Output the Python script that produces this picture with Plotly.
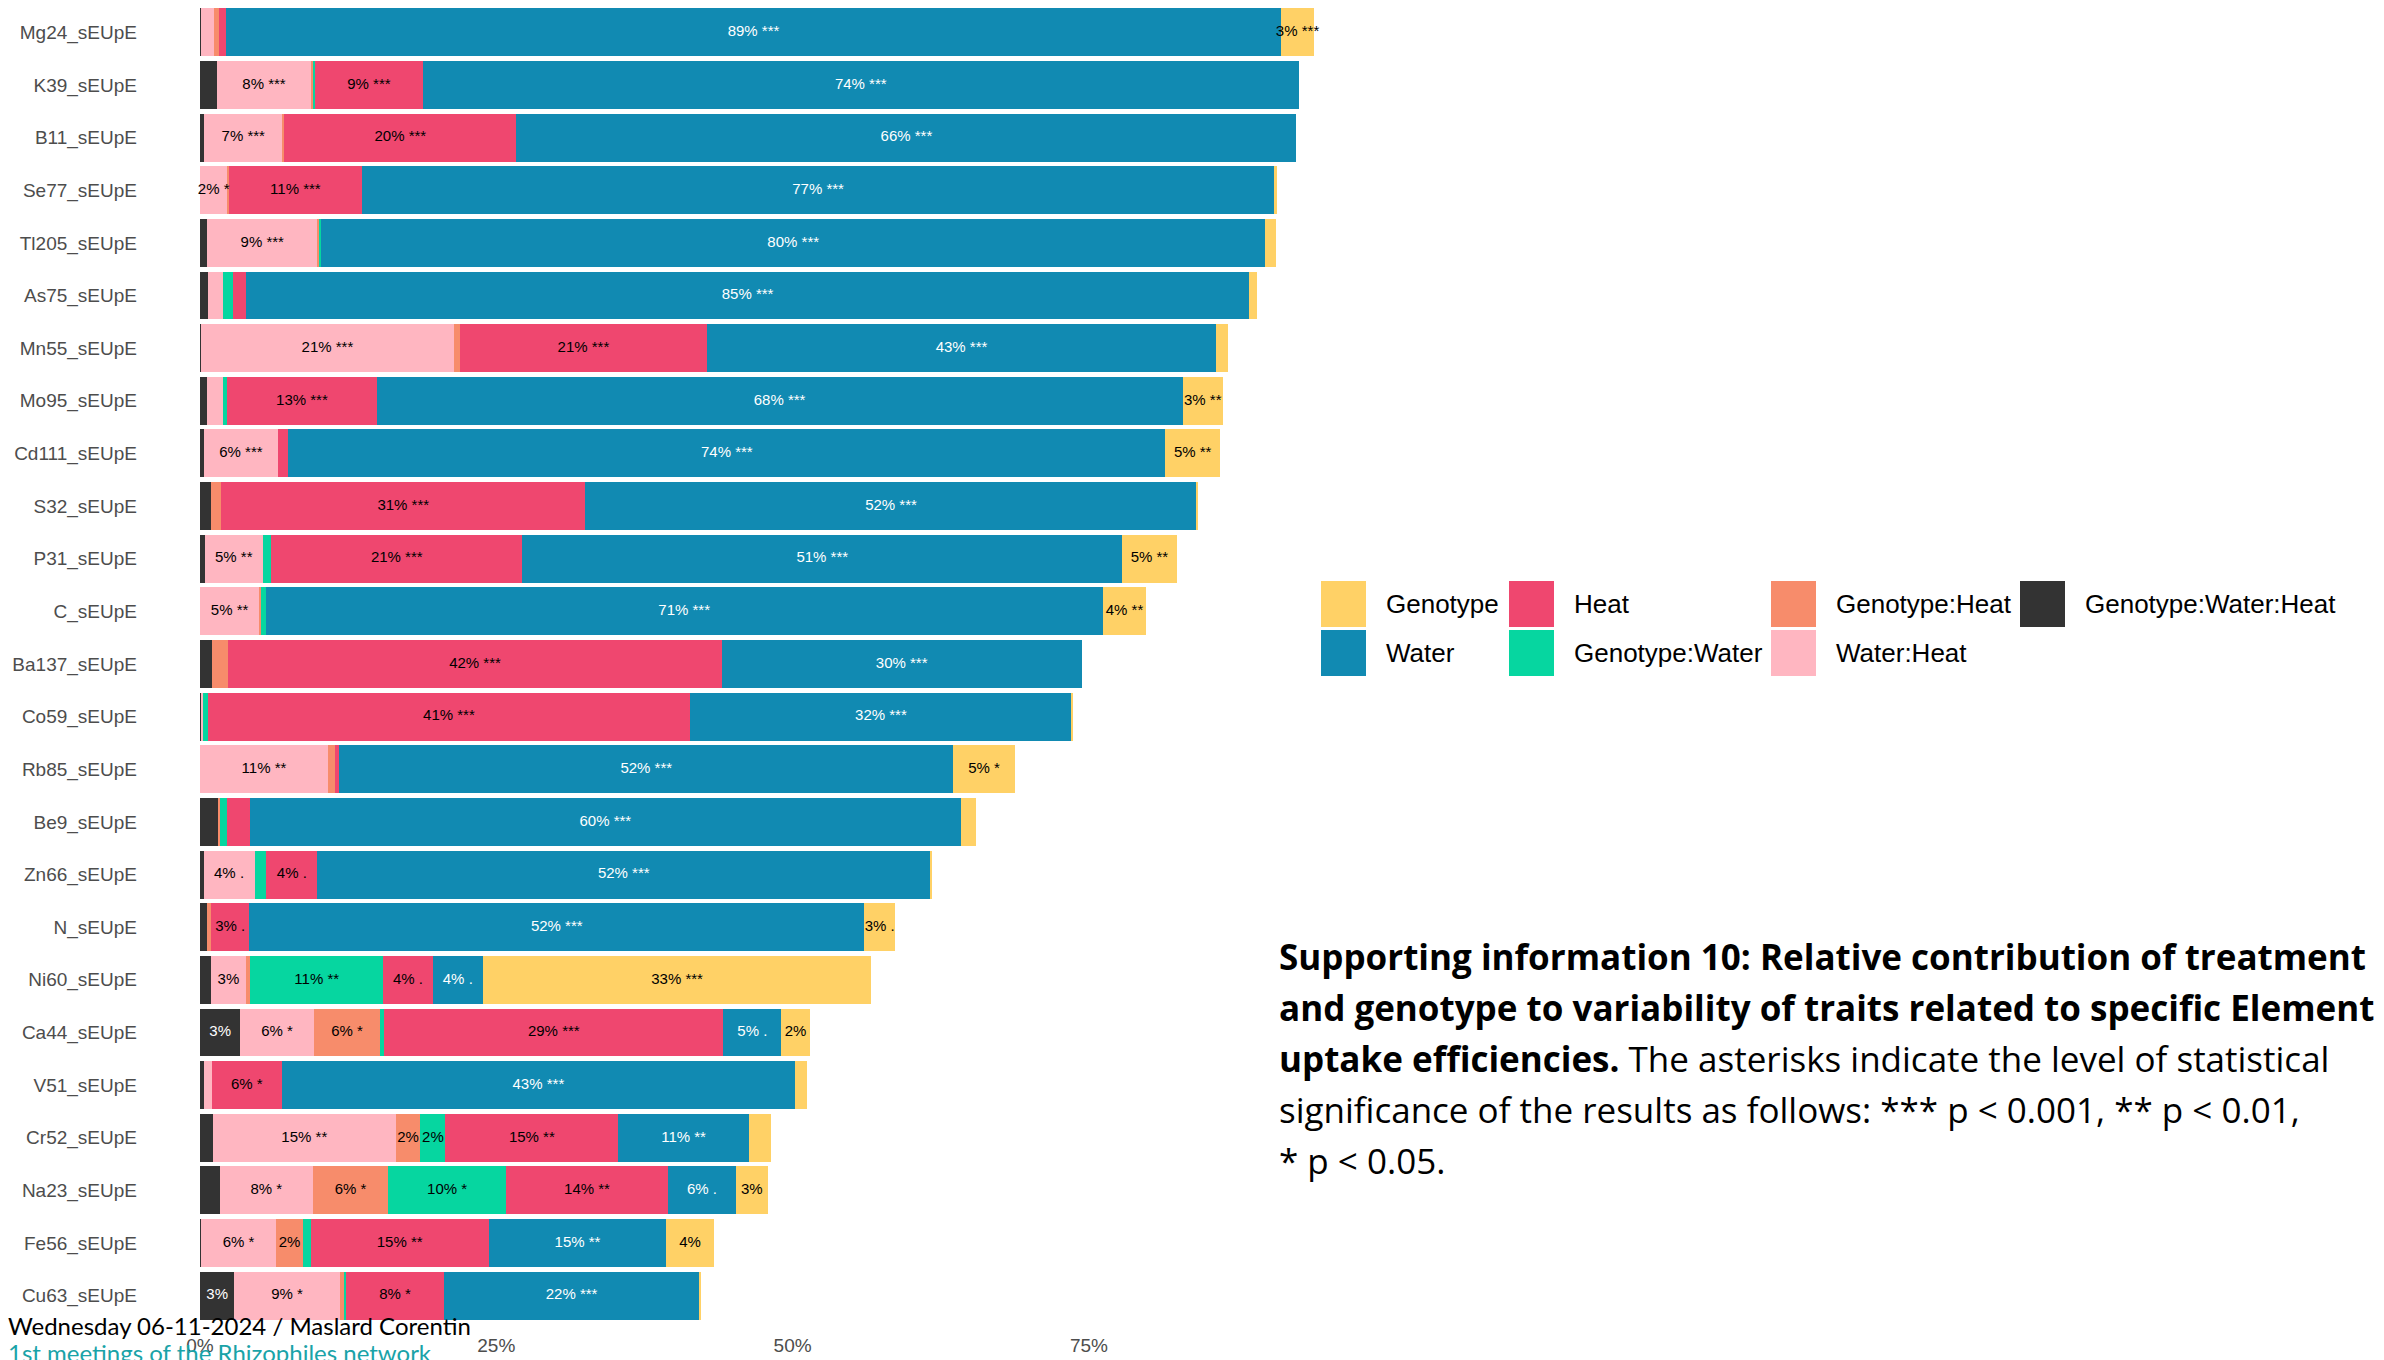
import numpy as np
import plotly.graph_objects as go

# ---- data: relative contribution (%) of each variance component per trait ----
categories = [
    "Mg24_sEUpE", "K39_sEUpE", "B11_sEUpE", "Se77_sEUpE", "Tl205_sEUpE",
    "As75_sEUpE", "Mn55_sEUpE", "Mo95_sEUpE", "Cd111_sEUpE", "S32_sEUpE",
    "P31_sEUpE", "C_sEUpE", "Ba137_sEUpE", "Co59_sEUpE", "Rb85_sEUpE",
    "Be9_sEUpE", "Zn66_sEUpE", "N_sEUpE", "Ni60_sEUpE", "Ca44_sEUpE",
    "V51_sEUpE", "Cr52_sEUpE", "Na23_sEUpE", "Fe56_sEUpE", "Cu63_sEUpE",
]

genotype_water_heat = [0.1, 1.4, 0.35, 0.0, 0.6, 0.7, 0.05, 0.6, 0.35, 0.9, 0.4, 0.0, 1.0,
                       0.15, 0.0, 1.5, 0.3, 0.6, 0.9, 3.4, 0.3, 1.1, 1.7, 0.05, 2.9]
water_heat = [1.1, 8.0, 6.6, 2.3, 9.3, 1.2, 21.4, 1.3, 6.2, 0.0, 4.9, 5.0, 0.0,
              0.1, 10.8, 0.0, 4.3, 0.0, 3.0, 6.2, 0.7, 15.4, 7.8, 6.4, 8.9]
genotype_heat = [0.4, 0.1, 0.15, 0.15, 0.15, 0.0, 0.5, 0.0, 0.0, 0.9, 0.0, 0.15, 1.4,
                 0.0, 0.6, 0.2, 0.0, 0.35, 0.35, 5.6, 0.0, 2.1, 6.4, 2.2, 0.35]
genotype_water = [0.0, 0.2, 0.0, 0.0, 0.2, 0.9, 0.0, 0.4, 0.0, 0.0, 0.7, 0.4, 0.0,
                  0.4, 0.0, 0.6, 1.0, 0.0, 11.2, 0.35, 0.0, 2.1, 9.9, 0.7, 0.2]
heat = [0.6, 9.1, 19.6, 11.2, 0.0, 1.1, 20.8, 12.6, 0.9, 30.7, 21.2, 0.0, 41.6,
        40.7, 0.35, 1.9, 4.3, 3.2, 4.2, 28.6, 5.9, 14.6, 13.7, 15.0, 8.2]
water = [89.0, 73.9, 65.8, 77.0, 79.6, 84.6, 43.0, 68.0, 74.0, 51.6, 50.6, 70.6, 30.4,
         32.2, 51.8, 60.0, 51.7, 51.9, 4.2, 4.9, 43.3, 11.0, 5.7, 15.0, 21.6]
genotype = [2.8, 0.0, 0.0, 0.2, 0.9, 0.7, 1.0, 3.4, 4.6, 0.1, 4.6, 3.7, 0.0,
            0.05, 5.2, 1.3, 0.1, 2.6, 32.8, 2.4, 1.0, 1.9, 2.7, 4.0, 0.05]

# significance codes for each component
sig_genotype_water_heat = [""] * 25
sig_water_heat = ["", "***", "***", "*", "***", "", "***", "", "***", "", "**", "**", "",
                  "", "**", "", ".", "", "", "*", "", "**", "*", "*", "*"]
sig_genotype_heat = ["", "", "", "", "", "", "", "", "", "", "", "", "",
                     "", "", "", "", "", "", "*", "", "", "*", "", ""]
sig_genotype_water = ["", "", "", "", "", "", "", "", "", "", "", "", "",
                      "", "", "", "", "", "**", "", "", "", "*", "", ""]
sig_heat = ["", "***", "***", "***", "", "", "***", "***", "", "***", "***", "", "***",
            "***", "", "", ".", ".", ".", "***", "*", "**", "**", "**", "*"]
sig_water = ["***", "***", "***", "***", "***", "***", "***", "***", "***", "***", "***", "***", "***",
             "***", "***", "***", "***", "***", ".", ".", "***", "**", ".", "**", "***"]
sig_genotype = ["***", "", "", "", "", "", "", "**", "**", "", "**", "**", "",
                "", "*", "", "", ".", "***", "", "", "", "", "", ""]

x_ticks = [0, 25, 50, 75]
x_tick_labels = ["0%", "25%", "50%", "75%"]

# stacking order, left to right: (name, values, significance, fill, label colour)
series = [
    ("Genotype:Water:Heat", genotype_water_heat, sig_genotype_water_heat, "#333333", "white"),
    ("Water:Heat", water_heat, sig_water_heat, "#FFB6C1", "black"),
    ("Genotype:Heat", genotype_heat, sig_genotype_heat, "#F78C6B", "black"),
    ("Genotype:Water", genotype_water, sig_genotype_water, "#06D6A0", "black"),
    ("Heat", heat, sig_heat, "#EF476F", "black"),
    ("Water", water, sig_water, "#118AB2", "white"),
    ("Genotype", genotype, sig_genotype, "#FFD166", "black"),
]
colour_of = {name: fill for name, _, _, fill, _ in series}

# legend arrangement: columns of entries
legend_columns = [["Genotype", "Water"], ["Heat", "Genotype:Water"],
                  ["Genotype:Heat", "Water:Heat"], ["Genotype:Water:Heat"]]

# ---- page geometry (pixels) ----
W, H = 2384, 1360
L, R, T, B = 200, 1326, 6, 1322


def px(x):
    return (x - L) / (R - L)


def py(y):
    return (B - y) / (B - T)


fig = go.Figure()

left = np.zeros(len(categories))
label_traces = []
for name, vals, sigs, fill, txt_col in series:
    v = np.array(vals, dtype=float)
    fig.add_trace(go.Bar(
        x=v, y=categories, orientation="h", name=name,
        marker=dict(color=fill, line=dict(width=0)),
        showlegend=False, hovertemplate="%{y}<br>" + name + ": %{x}%<extra></extra>",
    ))
    mid = left + v / 2
    keep = v >= 2
    texts = [f"{round(val)}%" + (f" {s}" if s else "") for val, s in zip(v, sigs)]
    label_traces.append(go.Scatter(
        x=mid[keep], y=[c for c, k in zip(categories, keep) if k],
        text=[t for t, k in zip(texts, keep) if k],
        mode="text", textposition="middle center",
        textfont=dict(family="Liberation Sans, Arial, sans-serif", size=15, color=txt_col),
        cliponaxis=False, showlegend=False, hoverinfo="skip",
    ))
    left = left + v

for tr in label_traces:
    fig.add_trace(tr)

shapes = []
annotations = []

# legend drawn as coloured boxes with labels
col_x = [1321, 1509, 1771, 2020]
row_y = [581, 630]
box = 46
for cx, entries in zip(col_x, legend_columns):
    for ry, name in zip(row_y, entries):
        shapes.append(dict(type="rect", xref="paper", yref="paper",
                           x0=px(cx), x1=px(cx + box - 1), y0=py(ry + box), y1=py(ry),
                           fillcolor=colour_of[name], line=dict(width=0), layer="above"))
        annotations.append(dict(xref="paper", yref="paper", x=px(cx + 63), y=py(ry + box / 2),
                                xanchor="left", yanchor="middle", showarrow=False, text=name,
                                font=dict(family="Liberation Sans, Arial, sans-serif",
                                          size=26, color="black")))

# caption
caption = [
    "<b>Supporting information 10: Relative contribution of treatment</b>",
    "<b>and genotype to variability of traits related to specific Element</b>",
    "<b>uptake efficiencies.</b> The asterisks indicate the level of statistical",
    "significance of the results as follows: *** p &lt; 0.001, ** p &lt; 0.01,",
    "* p &lt; 0.05.",
]
for i, line in enumerate(caption):
    annotations.append(dict(xref="paper", yref="paper", x=px(1277), y=py(956 + i * 51),
                            xanchor="left", yanchor="middle", showarrow=False, text=line,
                            font=dict(family="Open Sans, sans-serif", size=35, color="black")))

# footer
annotations.append(dict(xref="paper", yref="paper", x=px(6), y=py(1325), xanchor="left",
                        yanchor="middle", showarrow=False,
                        text="Wednesday 06-11-2024 / Maslard Corentin",
                        font=dict(family="Lato, sans-serif", size=24, color="black")))
annotations.append(dict(xref="paper", yref="paper", x=px(6), y=py(1352), xanchor="left",
                        yanchor="middle", showarrow=False,
                        text="1st meetings of the Rhizophiles network",
                        font=dict(family="Lato, sans-serif", size=24, color="#1AA3A8")))

fig.update_layout(
    width=W, height=H,
    margin=dict(l=L, r=W - R, t=T, b=H - B, pad=0),
    barmode="stack", bargap=0.09,
    plot_bgcolor="white", paper_bgcolor="white",
    showlegend=False,
    shapes=shapes, annotations=annotations,
    xaxis=dict(range=[0, 95], tickmode="array", tickvals=x_ticks, ticktext=x_tick_labels,
               showgrid=False, zeroline=False, showline=False, ticks="",
               ticklabelstandoff=10, automargin=False,
               tickfont=dict(family="Liberation Sans, Arial, sans-serif", size=19, color="#4D4D4D")),
    yaxis=dict(type="category", categoryorder="array", categoryarray=categories[::-1],
               range=[-0.5, len(categories) - 0.5],
               showgrid=False, zeroline=False, showline=False, ticks="",
               ticklabelstandoff=62, automargin=False,
               tickfont=dict(family="Liberation Sans, Arial, sans-serif", size=19, color="#4D4D4D")),
)

fig.write_html("out.html")
